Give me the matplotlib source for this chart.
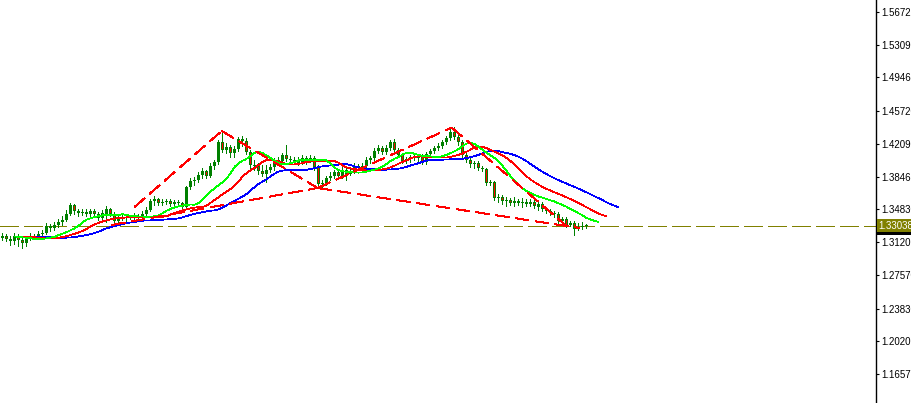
import matplotlib
matplotlib.use("Agg")
import matplotlib.pyplot as plt
import numpy as np
import pandas as pd
from matplotlib.transforms import blended_transform_factory

# ---------------- data (prices) ----------------
opens = [1.3165,1.3188,1.3154,1.3132,1.3188,1.3143,1.3110,1.3154,1.3188,1.3176,
         1.3210,1.3221,1.3298,1.3276,1.3310,1.3343,1.3365,1.3432,1.3531,1.3465,
         1.3443,1.3454,1.3432,1.3465,1.3432,1.3387,1.3432,1.3487,1.3432,1.3354,
         1.3387,1.3398,1.3387,1.3398,1.3409,1.3398,1.3432,1.3476,1.3576,1.3598,
         1.3554,1.3565,1.3576,1.3543,1.3565,1.3554,1.3509,1.3731,1.3798,1.3809,
         1.3864,1.3909,1.3853,1.3964,1.4008,1.4230,1.4141,1.4175,1.4108,1.4153,
         1.4263,1.4241,1.4119,1.3975,1.3964,1.3909,1.3875,1.3920,1.3953,1.4031,
         1.4019,1.4086,1.4042,1.4031,1.4019,1.3997,1.4053,1.4031,1.4053,1.3953,
         1.3764,1.3776,1.3831,1.3853,1.3897,1.3853,1.3920,1.3875,1.3909,1.3964,
         1.3942,1.3964,1.4031,1.4053,1.4130,1.4164,1.4119,1.4164,1.4230,1.4141,
         1.4086,1.4019,1.4042,1.4064,1.4053,1.4075,1.4008,1.4097,1.4130,1.4164,
         1.4186,1.4230,1.4275,1.4341,1.4286,1.4230,1.4086,1.4031,1.3986,1.3997,
         1.3942,1.3931,1.3776,1.3787,1.3609,1.3620,1.3576,1.3587,1.3554,1.3576,
         1.3554,1.3565,1.3543,1.3565,1.3509,1.3543,1.3487,1.3465,1.3443,1.3432,
         1.3354,1.3376,1.3310,1.3332,1.3265,1.3287,1.3298]
highs = [1.3221,1.3210,1.3188,1.3221,1.3210,1.3176,1.3188,1.3221,1.3210,1.3243,
         1.3254,1.3332,1.3321,1.3343,1.3376,1.3409,1.3476,1.3554,1.3543,1.3487,
         1.3487,1.3487,1.3487,1.3487,1.3454,1.3476,1.3520,1.3498,1.3454,1.3409,
         1.3432,1.3420,1.3420,1.3443,1.3432,1.3465,1.3509,1.3598,1.3631,1.3609,
         1.3598,1.3598,1.3598,1.3587,1.3587,1.3565,1.3742,1.3831,1.3842,1.3897,
         1.3942,1.3920,1.3997,1.4031,1.4252,1.4352,1.4219,1.4197,1.4186,1.4286,
         1.4297,1.4275,1.4141,1.4031,1.3997,1.3975,1.3975,1.3986,1.4053,1.4064,
         1.4108,1.4197,1.4075,1.4064,1.4064,1.4086,1.4075,1.4086,1.4075,1.3975,
         1.3809,1.3853,1.3897,1.3920,1.3920,1.3953,1.3942,1.3942,1.3997,1.3986,
         1.3997,1.4064,1.4075,1.4164,1.4197,1.4186,1.4197,1.4252,1.4263,1.4164,
         1.4108,1.4064,1.4086,1.4086,1.4097,1.4097,1.4119,1.4153,1.4186,1.4219,
         1.4252,1.4297,1.4374,1.4397,1.4308,1.4252,1.4119,1.4053,1.4019,1.4019,
         1.3964,1.3942,1.3809,1.3798,1.3654,1.3642,1.3620,1.3609,1.3620,1.3598,
         1.3609,1.3598,1.3598,1.3587,1.3576,1.3565,1.3509,1.3487,1.3465,1.3454,
         1.3398,1.3398,1.3354,1.3354,1.3332,1.3343,1.3321]
lows = [1.3143,1.3132,1.3088,1.3099,1.3077,1.3055,1.3077,1.3143,1.3154,1.3154,
        1.3176,1.3210,1.3243,1.3254,1.3287,1.3310,1.3354,1.3420,1.3432,1.3409,
        1.3420,1.3409,1.3409,1.3409,1.3365,1.3365,1.3343,1.3409,1.3321,1.3332,
        1.3365,1.3354,1.3376,1.3354,1.3376,1.3376,1.3409,1.3465,1.3531,1.3531,
        1.3531,1.3543,1.3520,1.3531,1.3531,1.3476,1.3498,1.3709,1.3753,1.3787,
        1.3831,1.3831,1.3842,1.3931,1.3986,1.4119,1.4108,1.4064,1.4064,1.4130,
        1.4186,1.4097,1.3942,1.3920,1.3875,1.3853,1.3787,1.3897,1.3920,1.3997,
        1.3997,1.4019,1.4008,1.3997,1.3975,1.3986,1.3986,1.4008,1.3920,1.3742,
        1.3720,1.3753,1.3809,1.3831,1.3831,1.3831,1.3809,1.3864,1.3886,1.3920,
        1.3931,1.3942,1.3997,1.4031,1.4108,1.4097,1.4097,1.4141,1.4119,1.4064,
        1.3997,1.3997,1.4008,1.4031,1.4019,1.3986,1.3986,1.4075,1.4108,1.4141,
        1.4164,1.4208,1.4252,1.4263,1.4197,1.4064,1.4008,1.3953,1.3942,1.3920,
        1.3909,1.3753,1.3753,1.3587,1.3565,1.3543,1.3520,1.3531,1.3520,1.3531,
        1.3509,1.3520,1.3520,1.3498,1.3476,1.3465,1.3443,1.3420,1.3398,1.3332,
        1.3332,1.3287,1.3298,1.3199,1.3254,1.3265,1.3276]
closes = [1.3188,1.3154,1.3132,1.3188,1.3143,1.3110,1.3154,1.3188,1.3176,1.3210,
          1.3221,1.3298,1.3276,1.3310,1.3343,1.3365,1.3432,1.3531,1.3465,1.3443,
          1.3454,1.3432,1.3465,1.3432,1.3387,1.3443,1.3487,1.3432,1.3354,1.3387,
          1.3398,1.3387,1.3398,1.3409,1.3398,1.3432,1.3476,1.3576,1.3598,1.3554,
          1.3565,1.3576,1.3543,1.3565,1.3554,1.3509,1.3731,1.3798,1.3809,1.3864,
          1.3909,1.3853,1.3964,1.4008,1.4230,1.4141,1.4175,1.4108,1.4153,1.4263,
          1.4241,1.4119,1.3975,1.3964,1.3909,1.3875,1.3920,1.3953,1.4031,1.4019,
          1.4086,1.4042,1.4031,1.4019,1.3997,1.4053,1.4031,1.4053,1.3953,1.3764,
          1.3776,1.3831,1.3853,1.3897,1.3853,1.3920,1.3875,1.3909,1.3964,1.3942,
          1.3964,1.4031,1.4053,1.4130,1.4164,1.4119,1.4164,1.4230,1.4141,1.4086,
          1.4019,1.4042,1.4064,1.4053,1.4075,1.4008,1.4097,1.4130,1.4164,1.4186,
          1.4230,1.4275,1.4341,1.4286,1.4230,1.4086,1.4031,1.3986,1.3997,1.3942,
          1.3931,1.3776,1.3787,1.3609,1.3620,1.3576,1.3587,1.3554,1.3576,1.3554,
          1.3565,1.3543,1.3565,1.3520,1.3543,1.3487,1.3465,1.3443,1.3432,1.3354,
          1.3376,1.3310,1.3332,1.3265,1.3287,1.3298,1.33038]

last_price = 1.33038
price_ticks = [1.56720, 1.53090, 1.49460, 1.45720, 1.42090, 1.38460,
               1.34830, 1.31200, 1.27570, 1.23830, 1.20200, 1.16570]

# Alligator settings (period, shift)
jaw_period, jaw_shift = 13, 8
teeth_period, teeth_shift = 8, 5
lips_period, lips_shift = 5, 3

# hand-drawn trend lines (bar index, price)
trend_x0 = [33.0, 54.8, 78.8, 112.3, 27.3, 78.8]
trend_y0 = [1.3509, 1.4352, 1.3720, 1.4390, 1.3310, 1.3720]
trend_x1 = [54.8, 78.8, 112.3, 141.0, 78.8, 144.3]
trend_y1 = [1.4352, 1.3720, 1.4390, 1.3298, 1.3720, 1.3276]

# ---------------- figure ----------------
plt.rcParams['lines.scale_dashes'] = False
W, H = 912, 403
fig = plt.figure(figsize=(W / 100, H / 100), dpi=100)
fig.patch.set_facecolor('white')
ax = fig.add_axes([0, 0, 876 / W, 1])
ax.set_facecolor('white')

PX = 0.72  # one pixel in points
LW = 0.55  # thin one-pixel indicator lines
YMIN, YMAX = 1.13354, 1.58051
ppx = (YMAX - YMIN) / H  # price per pixel

o = np.array(opens); h = np.array(highs); l = np.array(lows); c = np.array(closes)
xs = np.arange(len(c))

# candles: wick, 3px body outlined in green, red fill for falling bars
ax.vlines(xs, l, h, color='#008000', lw=PX, zorder=2, antialiased=False)
bot = np.minimum(o, c)
top = np.maximum(o, c)
ax.bar(xs, np.maximum(top - bot, ppx), bottom=bot, width=0.75, color='#008000',
       lw=0, zorder=2.1, antialiased=False)
dn = c < o
inner_h = np.maximum(top - bot - 2 * ppx, 0)
ax.bar(xs[dn], inner_h[dn], bottom=bot[dn] + ppx, width=0.25, color='#FF0000',
       lw=0, zorder=2.2, antialiased=False)

# Alligator lines (smoothed moving averages of median price, shifted forward)
median = pd.Series((h + l) / 2)
jaw = median.ewm(alpha=1 / jaw_period, adjust=False).mean()
teeth = median.ewm(alpha=1 / teeth_period, adjust=False).mean()
lips = median.ewm(alpha=1 / lips_period, adjust=False).mean()
ax.plot(xs + jaw_shift, jaw, color='#0000FF', lw=LW, zorder=3, antialiased=False)
ax.plot(xs + teeth_shift, teeth, color='#FF0000', lw=LW, zorder=3, antialiased=False)
ax.plot(xs + lips_shift, lips, color='#00FF00', lw=LW, zorder=3, antialiased=False)

# trend lines
for x0, y0, x1, y1 in zip(trend_x0, trend_y0, trend_x1, trend_y1):
    ax.plot([x0, x1], [y0, y1], color='#FF0000', lw=LW,
            linestyle=(0, (9.4, 5.0)), zorder=4, antialiased=False)

# current price line
ax.axhline(last_price, color='#808000', lw=PX, linestyle=(0, (13.5, 3.6)),
           zorder=1.5, antialiased=False)

# axes styling
ax.set_xlim(-0.625, -0.625 + 876 / 4)
ax.set_ylim(YMIN, YMAX)
for s in ['left', 'top', 'bottom']:
    ax.spines[s].set_visible(False)
ax.spines['right'].set_color('black')
ax.spines['right'].set_linewidth(1.0)
ax.set_xticks([])
ax.yaxis.tick_right()
ax.set_yticks(price_ticks)
ax.set_yticklabels([f"{p:.5f}" for p in price_ticks])
ax.tick_params(axis='y', direction='out', length=2.0, width=0.8, pad=1.5,
               labelsize=7, colors='black')
for lab in ax.get_yticklabels():
    lab.set_fontfamily('Liberation Sans')

# price labels on the scale
tr = blended_transform_factory(ax.transAxes, ax.transData)
ax.text(1.003, last_price - 0.0030, "1.32970", transform=tr, ha='left', va='center',
        fontsize=7, family='Liberation Sans', color='white', clip_on=False, zorder=5,
        bbox=dict(boxstyle='square,pad=0.2', fc='black', ec='none'))
ax.text(1.003, last_price, f"{last_price:.5f}", transform=tr, ha='left', va='center',
        fontsize=7, family='Liberation Sans', color='white', clip_on=False, zorder=6,
        bbox=dict(boxstyle='square,pad=0.2', fc='#808000', ec='none'))

fig.savefig("out.png", dpi=100, facecolor='white')
